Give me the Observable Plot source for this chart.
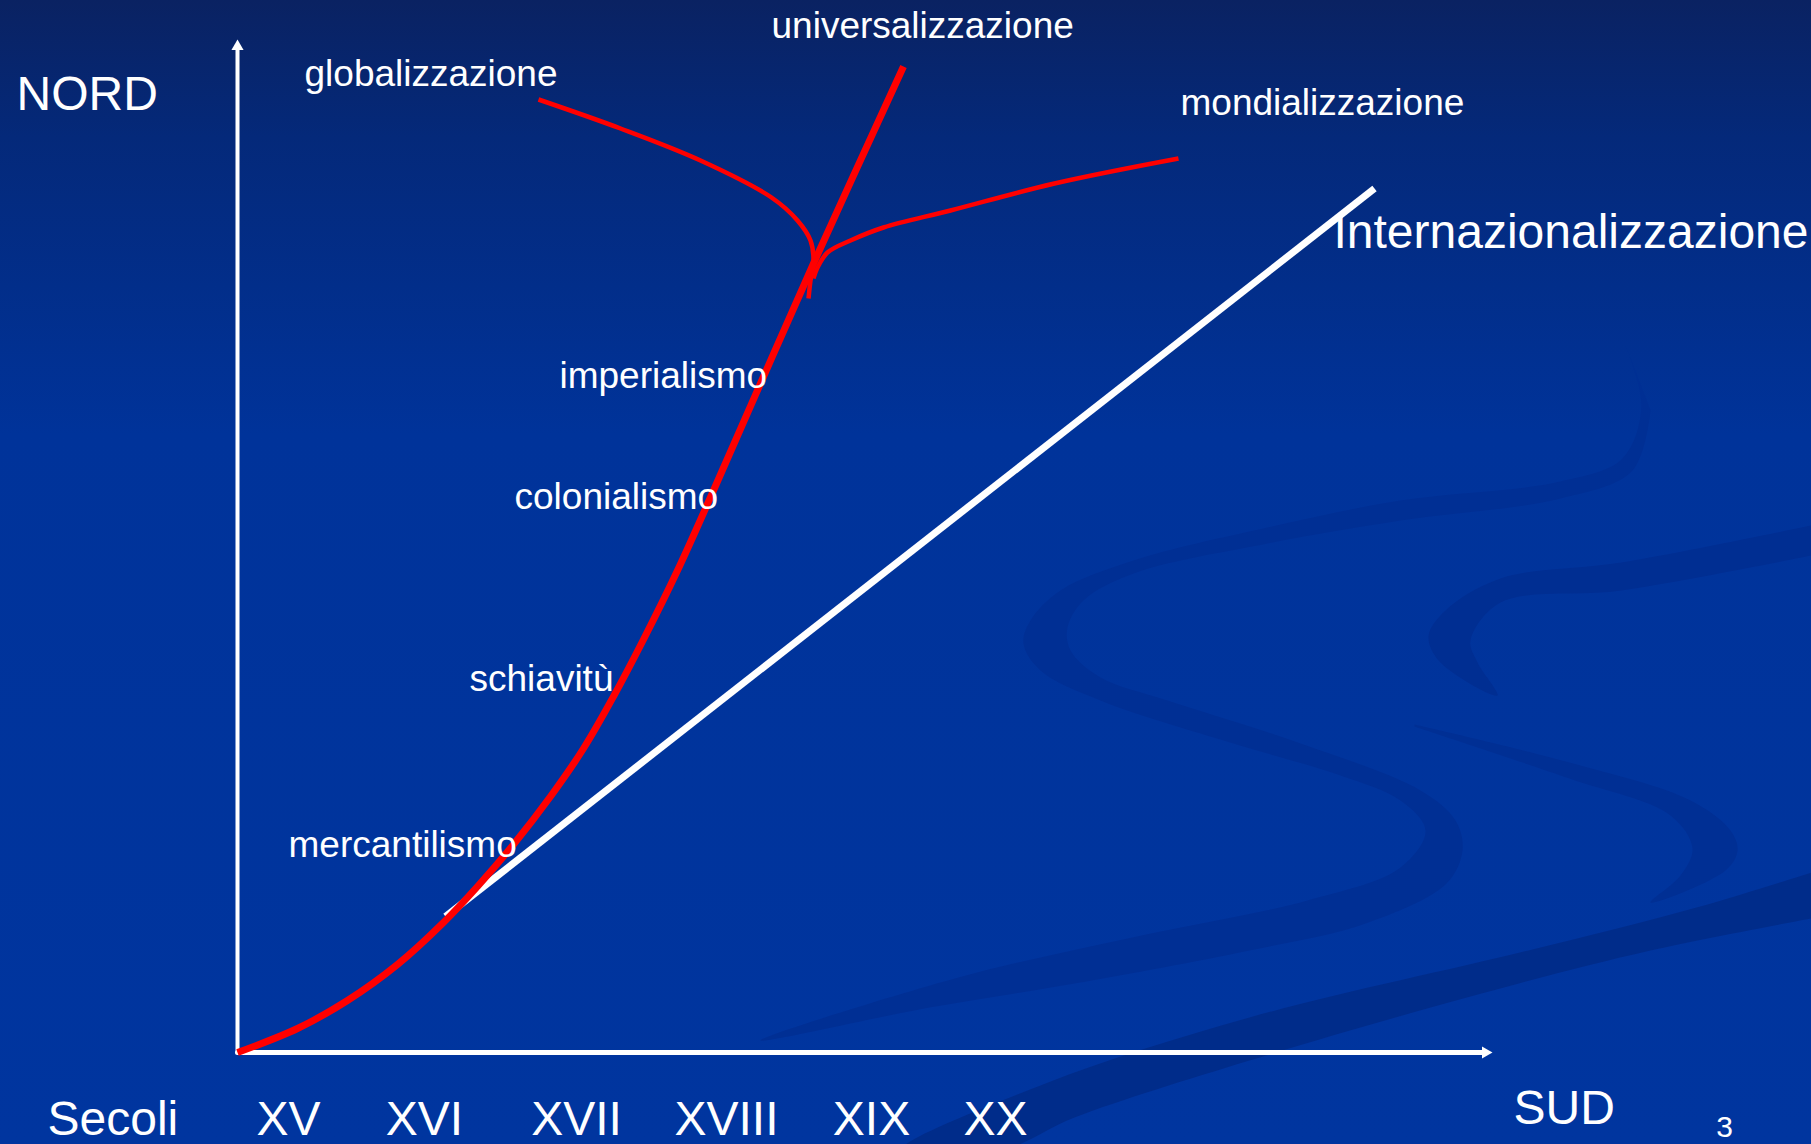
<!DOCTYPE html>
<html>
<head>
<meta charset="utf-8">
<script src="https://cdn.jsdelivr.net/npm/d3@7"></script>
<script src="https://cdn.jsdelivr.net/npm/@observablehq/plot@0.6"></script>
<style>
  html, body { margin: 0; padding: 0; }
  body {
    width: 1811px; height: 1144px; overflow: hidden;
    background: linear-gradient(to bottom, #0a2262 0%, #04297a 12%, #00339a 38%, #00359f 100%);
  }
  #chart svg { display: block; }
</style>
</head>
<body>
<div id="chart"></div>
<script>
// ---- data (units: horizontal = SUD axis, vertical = NORD axis, origin at the axes' corner)
const northAxis = [[0, 0], [0, 1006]];
const southAxis = [[0, 0], [1248, 0]];
const northHead = [[0, 1006]];
const southHead = [[1248, 0]];

const internazionalizzazione = [[208, 136], [1137, 864]];

const mainCurve = [[0, 0], [60, 24], [110, 52], [160, 88], [206, 130], [240, 166], [276, 208],
  [313, 256], [346, 304], [376, 356], [406, 413], [440, 482], [476, 562], [523, 669],
  [576, 789], [666, 986]];
const globalBranch = [[301, 953], [383, 924], [463, 892], [534, 855], [560, 832], [573, 812],
  [576, 792], [573, 772], [571, 754]];
const mondialBranch = [[576, 774], [580, 785], [590, 800], [613, 812], [646, 825], [713, 842],
  [817, 869], [941, 894]];

// background decoration (ribbon outlines)
const swooshS = [[1388, 707], [1404, 647], [1385, 594], [1323, 571], [1163, 552], [1030, 525],
  [896, 492], [823, 462], [793, 432], [786, 409], [803, 382], [863, 352], [996, 309], [1103, 277],
  [1163, 252], [1188, 222], [1163, 185], [1070, 152], [895, 115], [721, 75], [523, 12],
  [692, 45], [837, 69], [1012, 102], [1128, 129], [1209, 169], [1225, 202], [1218, 232],
  [1183, 262], [1063, 309], [930, 352], [863, 375], [833, 402], [830, 425], [846, 452],
  [896, 479], [1030, 509], [1163, 532], [1323, 554], [1395, 582], [1413, 642]];
const swooshHook = [[1574, 527], [1384, 490], [1263, 474], [1208, 442], [1191, 416], [1203, 390],
  [1260, 357], [1240, 390], [1233, 412], [1263, 450], [1384, 462], [1574, 497]];
const swooshLower = [[1177, 328], [1332, 290], [1453, 252], [1493, 222], [1500, 202], [1488, 182],
  [1413, 150], [1443, 177], [1455, 204], [1433, 237], [1332, 274], [1177, 326]];
const swooshBand = [[1574, 180], [1459, 145], [1291, 102], [1012, 35], [808, -31], [663, -98],
  [763, -98], [837, -65], [1012, -8], [1244, 59], [1413, 102], [1574, 134]];

const stageNames = ["globalizzazione", "universalizzazione", "mondializzazione",
  "imperialismo", "colonialismo", "schiavitù", "mercantilismo"];
const stageX = [67, 534, 943, 322, 277, 232, 51];
const stageY = [967, 1015, 938, 665, 544, 362, 196];

const bigNames = ["NORD", "Internazionalizzazione", "Secoli", "SUD"];
const bigX = [-221, 1096, -190, 1276];
const bigY = [943, 805, -82, -71];

const centuries = ["XV", "XVI", "XVII", "XVIII", "XIX", "XX"];
const centuryX = [51, 187, 339, 489, 634, 758];
const centuryY = [-82, -82, -82, -82, -82, -82];

const pageNumber = ["3"];
const pageX = [1487];
const pageY = [-84];

// ---- tables
const stages = stageNames.map((t, i) => ({t, x: stageX[i], y: stageY[i]}));
const bigs = bigNames.map((t, i) => ({t, x: bigX[i], y: bigY[i]}));
const cents = centuries.map((t, i) => ({t, x: centuryX[i], y: centuryY[i]}));
const pages = pageNumber.map((t, i) => ({t, x: pageX[i], y: pageY[i]}));

const font = "'Liberation Sans', Arial, Helvetica, sans-serif";

const chart = Plot.plot({
  width: 1811,
  height: 1144,
  margin: 0,
  x: {domain: [-237, 1574], axis: null},
  y: {domain: [-92, 1052], axis: null},
  style: {background: "transparent", overflow: "visible", fontFamily: font},
  marks: [
    Plot.line(swooshS, {curve: "catmull-rom", fill: "#002f94", stroke: "none"}),
    Plot.line(swooshHook, {curve: "catmull-rom", fill: "#002e92", stroke: "none"}),
    Plot.line(swooshLower, {curve: "catmull-rom", fill: "#002f94", stroke: "none"}),
    Plot.line(swooshBand, {curve: "catmull-rom", fill: "#002c8a", stroke: "none"}),

    Plot.line(northAxis, {stroke: "white", strokeWidth: 4}),
    Plot.line(southAxis, {stroke: "white", strokeWidth: 5}),
    Plot.dot(northHead, {symbol: "triangle", r: 4.5, fill: "white", stroke: null}),
    Plot.dot(southHead, {symbol: "triangle", rotate: 90, r: 4.5, fill: "white", stroke: null}),

    Plot.line(internazionalizzazione, {stroke: "white", strokeWidth: 7, strokeLinecap: "butt"}),

    Plot.line(globalBranch, {curve: "catmull-rom", stroke: "#ff0000", strokeWidth: 4.5, strokeLinecap: "butt"}),
    Plot.line(mondialBranch, {curve: "catmull-rom", stroke: "#ff0000", strokeWidth: 4.5, strokeLinecap: "butt"}),
    Plot.line(mainCurve, {curve: "catmull-rom", stroke: "#ff0000", strokeWidth: 7, strokeLinecap: "butt"}),

    Plot.text(stages, {x: "x", y: "y", text: "t", textAnchor: "start", lineAnchor: "bottom",
      fill: "white", fontSize: 37, fontFamily: font}),
    Plot.text(bigs, {x: "x", y: "y", text: "t", textAnchor: "start", lineAnchor: "bottom",
      fill: "white", fontSize: 48, fontFamily: font}),
    Plot.text(cents, {x: "x", y: "y", text: "t", textAnchor: "middle", lineAnchor: "bottom",
      fill: "white", fontSize: 48, fontFamily: font}),
    Plot.text(pages, {x: "x", y: "y", text: "t", textAnchor: "middle", lineAnchor: "bottom",
      fill: "white", fontSize: 30, fontFamily: font})
  ]
});
document.getElementById("chart").appendChild(chart);
</script>
</body>
</html>
